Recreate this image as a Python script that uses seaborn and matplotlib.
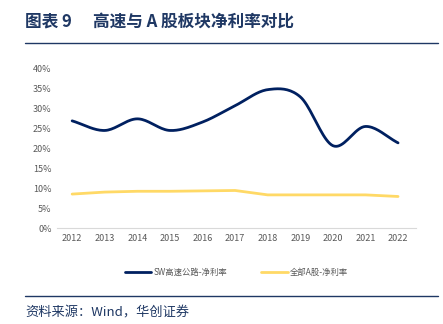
import numpy as np
import pandas as pd
import matplotlib
matplotlib.use("Agg")
import matplotlib.pyplot as plt
import seaborn as sns

years = [2012, 2013, 2014, 2015, 2016, 2017, 2018, 2019, 2020, 2021, 2022]
highway = [26.8, 24.4, 27.3, 24.4, 26.5, 30.6, 34.6, 32.8, 20.6, 25.4, 21.3]
all_a = [8.5, 9.0, 9.2, 9.2, 9.3, 9.4, 8.3, 8.3, 8.3, 8.3, 7.9]
name_hw = "SW高速公路-净利率"
name_a = "全部A股-净利率"
yticks = [0, 5, 10, 15, 20, 25, 30, 35, 40]

sns.set_theme(style="white")
plt.rcParams['font.family'] = ['Noto Sans CJK SC', 'DejaVu Sans']

def smooth(x, y, n=20):
    # Catmull-Rom style smoothing for display (Excel-like smoothed line)
    x = np.asarray(x, float); y = np.asarray(y, float)
    px = np.concatenate([[2*x[0]-x[1]], x, [2*x[-1]-x[-2]]])
    py = np.concatenate([[2*y[0]-y[1]], y, [2*y[-1]-y[-2]]])
    xs, ys = [], []
    for i in range(1, len(px)-2):
        t = np.linspace(0, 1, n, endpoint=False)
        for arr, out in ((px, xs), (py, ys)):
            p0, p1, p2, p3 = arr[i-1], arr[i], arr[i+1], arr[i+2]
            out.extend(0.5*((2*p1) + (-p0+p2)*t + (2*p0-5*p1+4*p2-p3)*t**2 + (-p0+3*p1-3*p2+p3)*t**3))
    xs.append(x[-1]); ys.append(y[-1])
    return np.array(xs), np.array(ys)

sx, sy = smooth(years, highway)
df_hw = pd.DataFrame({"x": sx, "y": sy})
df_a = pd.DataFrame({"x": years, "y": all_a})

fig = plt.figure(figsize=(4.43, 3.24), dpi=100)
ax = fig.add_axes([0.129, 0.296, 0.81, 0.494])
sns.lineplot(data=df_hw, x="x", y="y", ax=ax, color="#002060", lw=2.0, label=name_hw, sort=False)
sns.lineplot(data=df_a, x="x", y="y", ax=ax, color="#FFD966", lw=2.0, label=name_a)
ax.set_xlim(2011.54, 2022.55)
ax.set_ylim(0, 40)
ax.set_xticks(years)
ax.set_xticklabels([str(y) for y in years], fontsize=6.5, color="#595959")
ax.set_yticks(yticks)
ax.set_yticklabels([f"{v}%" for v in yticks], fontsize=6.5, color="#595959")
ax.set_xlabel(""); ax.set_ylabel("")
for s in ["top", "right", "left"]:
    ax.spines[s].set_visible(False)
ax.spines["bottom"].set_color("#D9D9D9")
ax.spines["bottom"].set_linewidth(0.8)
ax.tick_params(axis="both", length=0, pad=4)
ax.grid(False)
leg = ax.legend(loc="upper center", bbox_to_anchor=(0.5, -0.2), ncol=2, frameon=False,
                fontsize=6, handlelength=3.2, columnspacing=4, handletextpad=0.3)
for t in leg.get_texts():
    t.set_color("#595959")

navy = "#1F3864"
fig.text(25/443, 1-22/324, "图表 9", fontsize=12, fontweight="bold",
         color=navy, va="center", ha="left")
fig.text(93/443, 1-22/324, "高速与 A 股板块净利率对比", fontsize=12, fontweight="bold",
         color=navy, va="center", ha="left")
fig.add_artist(plt.Line2D([25/443, 438/443], [1-43/324, 1-43/324], color=navy, lw=1.0))
fig.add_artist(plt.Line2D([25/443, 438/443], [1-296/324, 1-296/324], color=navy, lw=1.0))
fig.text(25/443, 1-313/324, "资料来源：Wind，华创证券", fontsize=9.5, style="italic",
         color=navy, va="center", ha="left")
fig.savefig("out.png", dpi=100)
